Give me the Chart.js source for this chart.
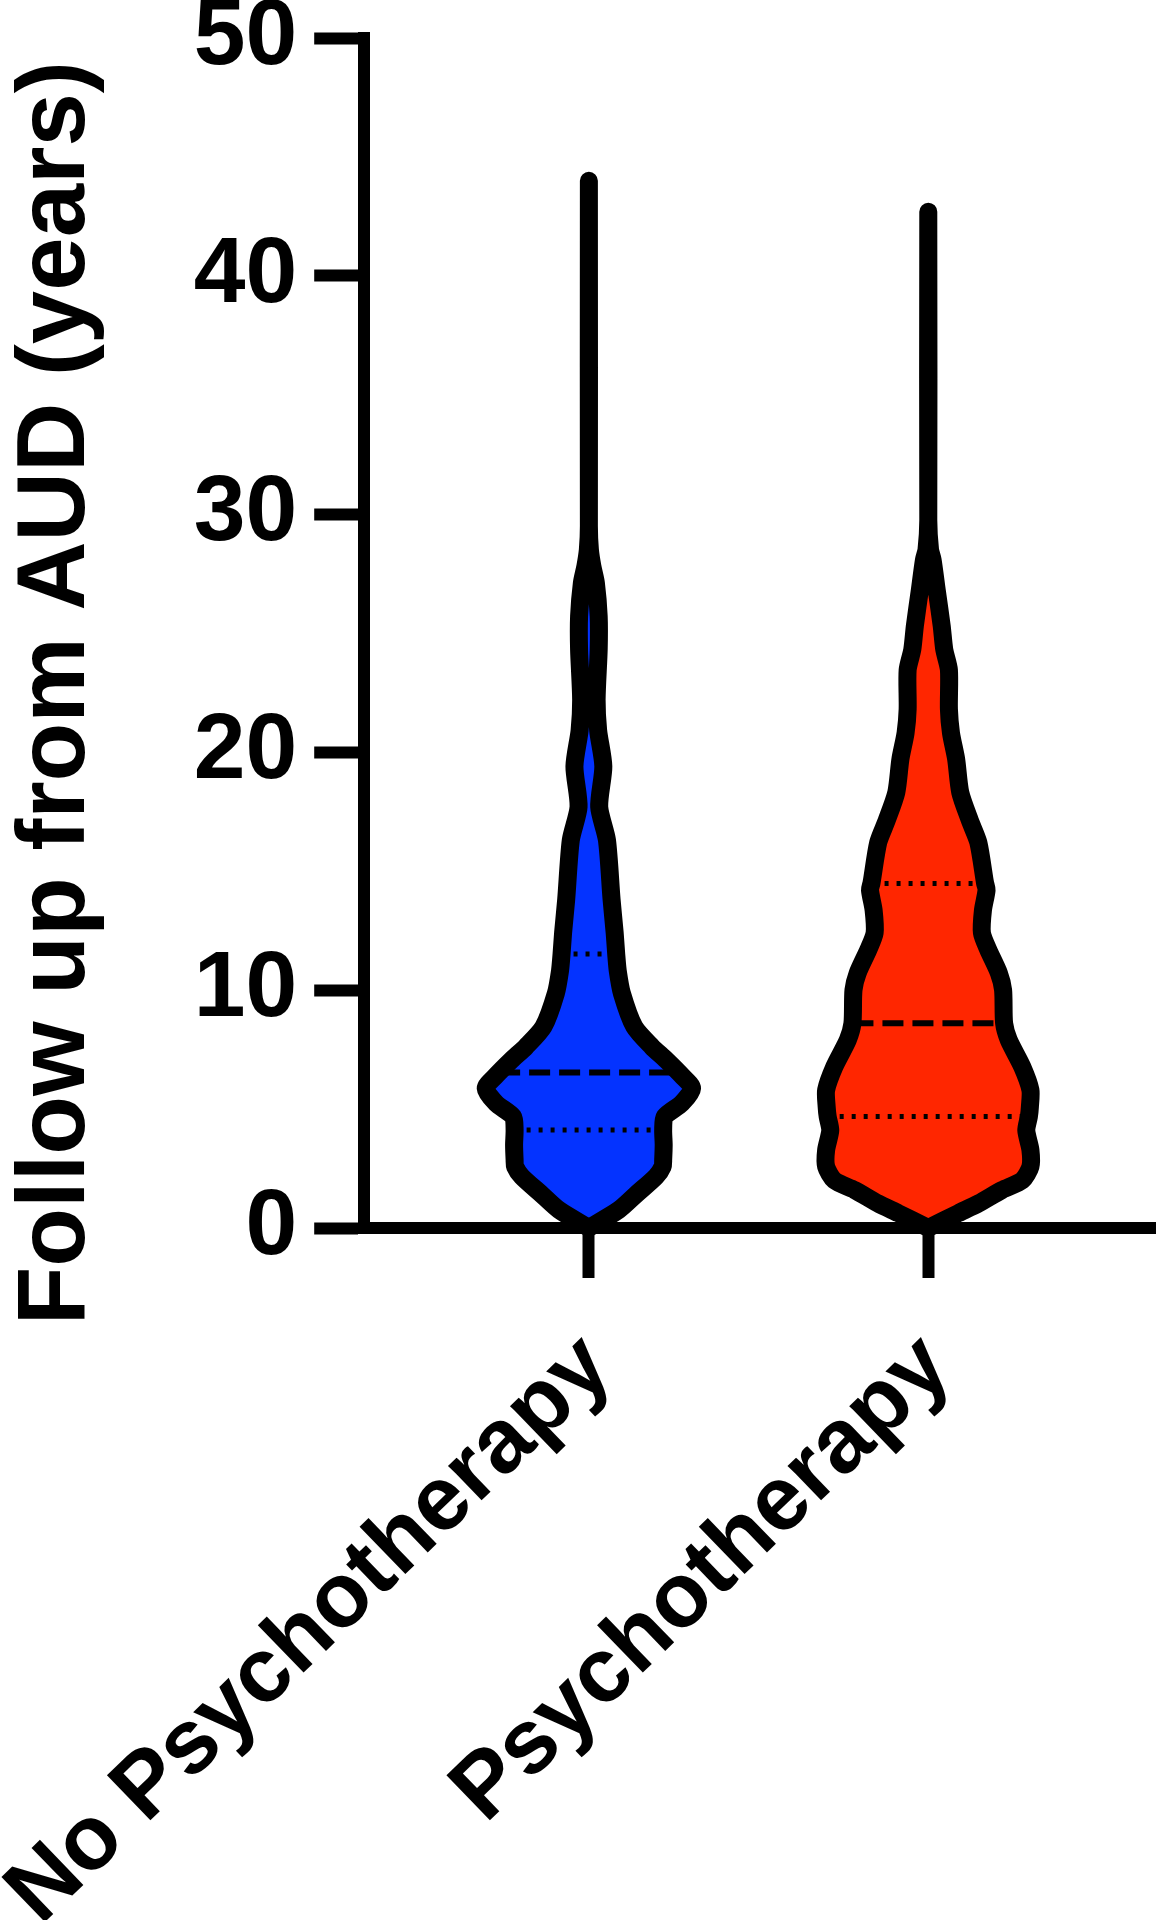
<!DOCTYPE html>
<html>
<head>
<meta charset="utf-8">
<title>Follow up from AUD</title>
<script src="https://cdn.jsdelivr.net/npm/chart.js@4.4.1/dist/chart.umd.min.js"></script>
<style>
    html, body { margin: 0; padding: 0; background: #fff; }
    #wrap { width: 1162px; height: 1920px; }
</style>
</head>
<body>
<div id="wrap"><canvas id="violin" width="1162" height="1920"></canvas></div>
<script>
const groups = ['No Psychotherapy', 'Psychotherapy'];
const groupColors = ['#0433FF', '#FF2600'];

// violin outlines: follow-up (years) and relative density (widest = 1)
const noPsyLevels = [0, 0.76, 1.46, 2.16, 2.58, 2.86, 3.5, 4.12, 4.68, 5.24, 5.87, 6.36, 7.06, 7.62, 8.46, 9.86,
    10.8, 11.5, 12.4, 13.8, 16.3, 17.7, 19.4, 20.9, 22.2, 24.3, 25.7, 27.1, 27.8, 28.5, 29.5, 44.0];
const noPsyDensity = [0, 0.29, 0.47, 0.65, 0.715, 0.72, 0.725, 0.72, 0.735, 0.90, 1.0, 0.91, 0.75, 0.61, 0.44, 0.32,
    0.28, 0.265, 0.25, 0.22, 0.175, 0.10, 0.14, 0.09, 0.075, 0.095, 0.095, 0.068, 0.034, 0.01, 0, 0];

const psyLevels = [0, 0.62, 1.04, 1.6, 2.0, 2.58, 3.28, 4.1, 4.68, 5.1, 5.8, 6.78, 7.9, 8.6, 10.0, 10.7, 11.7, 12.4,
    13.36, 14.2, 14.5, 16.2, 17.1, 18.3, 19.7, 20.8, 21.8, 23.45, 24.3, 25.3, 26.8, 28.07, 28.5, 29.75, 42.7];
const psyDensity = [0, 0.29, 0.49, 0.715, 0.91, 0.99, 0.99, 0.95, 0.975, 0.985, 0.99, 0.91, 0.78, 0.735, 0.725, 0.685, 0.58, 0.52,
    0.53, 0.565, 0.55, 0.485, 0.405, 0.31, 0.27, 0.22, 0.2, 0.2, 0.155, 0.13, 0.082, 0.042, 0.017, 0, 0];

// Q1, median, Q3 and the violin's relative width at each
const noPsyQuartiles = [4.12, 6.53, 11.51];
const noPsyQuartileWidth = [0.72, 0.87, 0.265];
const psyQuartiles = [4.68, 8.60, 14.48];
const psyQuartileWidth = [0.975, 0.735, 0.54];

const HALF_WIDTH = 0.304;
const FONT = "'Liberation Sans', Arial, Helvetica, sans-serif";

function outline(levels, density, pos) {
    const left = levels.map((v, i) => ({x: pos - density[i] * HALF_WIDTH, y: v}));
    const right = levels.map((v, i) => ({x: pos + density[i] * HALF_WIDTH, y: v})).reverse().slice(1);
    return left.concat(right);
}

function violin(levels, density, pos, color) {
    return {
        data: outline(levels, density, pos),
        backgroundColor: color,
        borderColor: '#000',
        borderWidth: 18,
        borderJoinStyle: 'round',
        borderCapStyle: 'round',
        fill: 'shape',
        tension: 0.25,
        pointRadius: 0,
        clip: false,
        order: 2
    };
}

function quartileLines(quartiles, widths, pos) {
    return quartiles.map((q, i) => ({
        data: [{x: pos - widths[i] * HALF_WIDTH, y: q}, {x: pos + widths[i] * HALF_WIDTH, y: q}],
        borderColor: '#000',
        borderWidth: i === 1 ? 6 : 5,
        borderDash: i === 1 ? [21, 9] : [4, 8],
        borderCapStyle: 'butt',
        fill: false,
        tension: 0,
        pointRadius: 0,
        clip: false,
        order: 1
    }));
}

const datasets = [
    violin(noPsyLevels, noPsyDensity, 1, groupColors[0]),
    violin(psyLevels, psyDensity, 2, groupColors[1]),
    ...quartileLines(noPsyQuartiles, noPsyQuartileWidth, 1),
    ...quartileLines(psyQuartiles, psyQuartileWidth, 2)
];

new Chart(document.getElementById('violin'), {
    type: 'line',
    data: { datasets: datasets },
    options: {
        responsive: false,
        animation: false,
        indexAxis: 'y',
        layout: { padding: { left: 0, right: 7, top: 0, bottom: 0 } },
        plugins: {
            legend: { display: false },
            tooltip: { enabled: false },
            title: {
                display: true,
                position: 'left',
                fullSize: true,
                align: 'center',
                // leading blanks push the centred title down to where the original sits
                text: ' '.repeat(20) + 'Follow up from AUD (years)',
                color: '#000',
                font: { family: FONT, size: 96, weight: 'bold' },
                padding: 0
            }
        },
        scales: {
            x: {
                type: 'linear',
                min: 0.338,
                max: 2.668,
                afterBuildTicks: function(scale) {
                    scale.ticks = groups.map((g, i) => ({value: i + 1}));
                },
                afterFit: function(scale) {
                    scale.height = 692;
                    scale.paddingLeft = 0;
                    scale.paddingRight = 0;
                },
                ticks: {
                    autoSkip: false,
                    minRotation: 44,
                    maxRotation: 44,
                    padding: 36,
                    labelOffset: 9,
                    color: '#000',
                    font: { family: FONT, size: 91, weight: 'bold' },
                    callback: function(value) {
                        return groups[value - 1];
                    }
                },
                grid: { drawOnChartArea: false, drawTicks: true, tickLength: 50, tickWidth: 12, tickColor: '#000' },
                border: { display: true, width: 12, color: '#000', z: 1 }
            },
            y: {
                type: 'linear',
                min: 0,
                max: 50,
                afterFit: function(scale) {
                    scale.width = 249;
                    scale.paddingTop = 38;
                    scale.paddingBottom = 0;
                },
                ticks: {
                    stepSize: 10,
                    padding: 17,
                    color: '#000',
                    font: { family: FONT, size: 93, weight: 'bold' }
                },
                grid: { drawOnChartArea: false, drawTicks: true, tickLength: 50, tickWidth: 12, tickColor: '#000' },
                border: { display: true, width: 12, color: '#000' }
            }
        }
    }
});
</script>
</body>
</html>
